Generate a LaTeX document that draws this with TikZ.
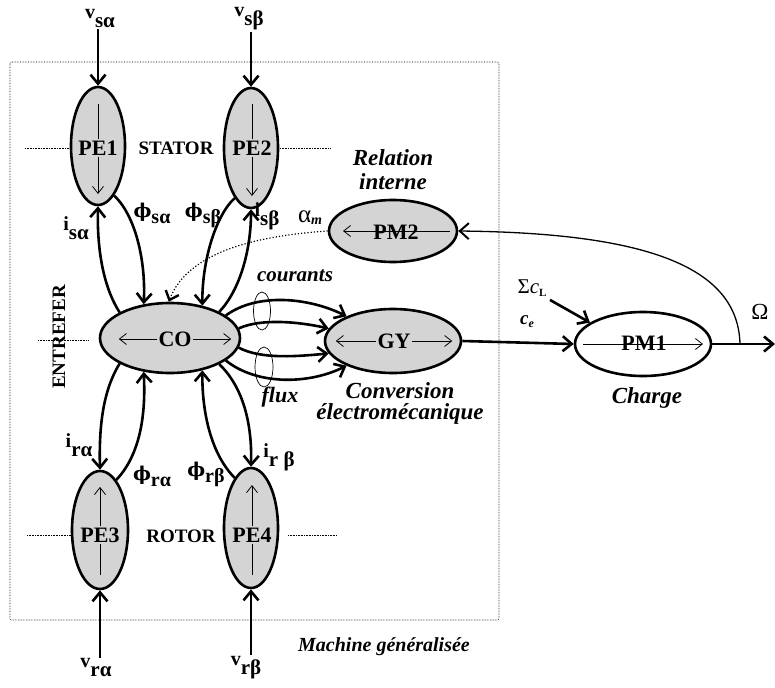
\documentclass[tikz,border=0pt]{standalone}
\usepackage{fontspec}
\setmainfont{Liberation Serif}
\newfontfamily\grkfont{DejaVu Serif}
\usetikzlibrary{arrows.meta,shapes.geometric}

% signal label: small raised letter followed by a larger lowered bold index
\newcommand\sig[2]{{\fontsize{20}{20}\selectfont\bfseries #1}\raisebox{-9pt}{\fontsize{21}{21}\selectfont\bfseries #2}}
\newcommand\fsig[1]{{\fontsize{19}{19}\selectfont\grkfont\bfseries ϕ}\raisebox{-6pt}{\fontsize{20}{20}\selectfont\bfseries #1}}

\begin{document}
\begin{tikzpicture}[x=1pt,y=-1pt,
  blob/.style={ellipse, draw, line width=2.6pt, fill=black!17, inner sep=0pt},
  wblob/.style={ellipse, draw, line width=2.6pt, fill=white, inner sep=0pt},
  ntext/.style={font=\fontsize{22}{22}\selectfont\bfseries, inner sep=1.5pt},
  zone/.style={font=\fontsize{19}{19}\selectfont\bfseries, inner sep=1pt},
  note/.style={font=\fontsize{23}{24}\selectfont\bfseries\itshape, align=center, inner sep=1pt},
  flow/.style={line width=2.6pt, -{Straight Barb[length=9pt,width=15pt]}},
  inner/.style={line width=0.8pt, -{Straight Barb[length=7pt,width=11pt]}},
  thinline/.style={line width=0.8pt},
  dots/.style={dotted, line width=1.2pt},
  boxline/.style={densely dotted, line width=0.6pt},
  ring/.style={ellipse, draw, line width=0.7pt, inner sep=0pt}]

\useasboundingbox (0,0) rectangle (775,687);

% frame of the generalised machine
\draw[boxline, rounded corners=2pt] (10,62) rectangle (499,620);

% level marks
\draw[boxline] (25,148) -- (70,148);
\draw[boxline] (280,148) -- (330,148);
\draw[boxline] (27,535) -- (72,535);
\draw[boxline] (288,535) -- (337,535);
\draw[boxline] (38,340) -- (88,340);

% processing elements
\node[blob, minimum width=54pt, minimum height=118pt] (PE1) at (98,146) {};
\node[blob, minimum width=54pt, minimum height=120pt] (PE2) at (251,148) {};
\node[blob, minimum width=56pt, minimum height=118pt] (PE3) at (100,530) {};
\node[blob, minimum width=54pt, minimum height=120pt] (PE4) at (251,528) {};
\node[blob, minimum width=140pt, minimum height=70pt] (CO) at (170,338) {};
\node[blob, minimum width=136pt, minimum height=64pt] (GY) at (393,341) {};
\node[blob, minimum width=128pt, minimum height=62pt] (PM2) at (393,231) {};
\node[wblob, minimum width=136pt, minimum height=64pt] (PM1) at (643,344) {};

% element names and their inner arrows
\node[ntext] (PE1t) at (98,148) {PE1};
\draw[thinline] (PE1t.north) -- ++(0,-35);
\draw[inner] (PE1t.south) -- ++(0,37);
\node[ntext] (PE2t) at (252,148) {PE2};
\draw[thinline] (PE2t.north) -- ++(0,-35);
\draw[inner] (PE2t.south) -- ++(0,39);
\node[ntext] (PE3t) at (100,535) {PE3};
\draw[thinline] (PE3t.south) -- ++(0,31);
\draw[inner] (PE3t.north) -- ++(0,-39);
\node[ntext] (PE4t) at (252,535) {PE4};
\draw[thinline] (PE4t.south) -- ++(0,31);
\draw[inner] (PE4t.north) -- ++(0,-41);
\node[ntext] (COt) at (175,339) {CO};
\draw[inner] (COt.west) -- ++(-38,0);
\draw[inner] (COt.east) -- ++(38,0);
\node[ntext] (GYt) at (394,341) {GY};
\draw[inner] (GYt.west) -- ++(-40,0);
\draw[inner] (GYt.east) -- ++(40,0);
\draw[inner] ([xshift=-60pt]PM1.center) -- ([xshift=60pt]PM1.center);
\node[ntext] (PM1t) at (644,343) {PM1};
\draw[inner] ([xshift=57pt]PM2.center) -- ([xshift=-50pt]PM2.center);
\node[ntext] (PM2t) at (396,232) {PM2};

% zone names
\node[zone] (stator) at (176,148) {STATOR};
\node[zone] (rotor) at (181,536) {ROTOR};
\node[zone, rotate=90] (entrefer) at (59,337) {ENTREFER};

% voltage inputs
\node[inner sep=1pt] (vsa) at (100,19) {\sig{v}{sα}};
\node[inner sep=1pt] (vsb) at (249,19) {\sig{v}{sβ}};
\node[inner sep=1pt] (vra) at (96,668) {\sig{v}{rα}};
\node[inner sep=1pt] (vrb) at (246,668) {\sig{v}{rβ}};
\draw[flow] (vsa.south -| PE1.north) -- (PE1.north);
\draw[flow] (vsb.south -| PE2.north) -- (PE2.north);
\draw[flow] (vra.north -| PE3.south) -- (PE3.south);
\draw[flow] (vrb.north -| PE4.south) -- (PE4.south);

% stator couplings
\draw[flow] (CO.153) .. controls (102,285) and (97,245) .. (PE1.south);
\draw[flow] (PE1.-72) .. controls (135,215) and (146,260) .. (CO.128);
\draw[flow] (PE2.-108) .. controls (216,215) and (202,260) .. (CO.45);
\draw[flow] (CO.28) .. controls (240,290) and (251,250) .. (PE2.south);

% rotor couplings
\draw[flow] (CO.207) .. controls (102,392) and (99,430) .. (PE3.north);
\draw[flow] (PE3.72) .. controls (140,455) and (146,415) .. (CO.232);
\draw[flow] (PE4.108) .. controls (212,455) and (202,415) .. (CO.315);
\draw[flow] (CO.332) .. controls (246,390) and (252,430) .. (PE4.north);

% currents and fluxes towards the converter
\draw[flow] (CO.22) .. controls (258,292) and (310,298) .. (GY.152);
\draw[flow] (CO.8) .. controls (262,318) and (300,322) .. (GY.169);
\draw[flow] (CO.-8) .. controls (262,360) and (300,356) .. (GY.191);
\draw[flow] (CO.-22) .. controls (258,386) and (310,384) .. (GY.208);
\node[ring, minimum width=17pt, minimum height=38pt] (ringc) at (262,311) {};
\node[ring, minimum width=18pt, minimum height=40pt] (ringf) at (264,367) {};
\node[note, font=\fontsize{21}{21}\selectfont\bfseries\itshape] (courants) at (295,276) {courants};
\node[note, font=\fontsize{22}{22}\selectfont\bfseries\itshape] (flux) at (280,397) {flux};

% internal relation
\draw[dots, -{Straight Barb[length=8pt,width=14pt,line width=2.4pt]}] (PM2.west) .. controls (255,236) and (188,252) .. (CO.92);
\node (alpham) at (310,218) {{\fontsize{25}{25}\selectfont α}\raisebox{-2pt}{\fontsize{14}{14}\selectfont\bfseries\itshape m}};
\node[note] (relint) at (393,170) {Relation\\interne};

% signal names
\node[inner sep=1pt] (isa) at (76,228) {\sig{i}{sα}};
\node[inner sep=1pt] (fsa) at (152,213) {\fsig{sα}};
\node[inner sep=1pt] (fsb) at (203,215) {\fsig{sβ}};
\node[inner sep=1pt] (isb) at (267,216) {\sig{i}{sβ}};
\node[inner sep=1pt] (ira) at (79,445) {\sig{i}{rα}};
\node[inner sep=1pt] (fra) at (152,476) {\fsig{rα}};
\node[inner sep=1pt] (frb) at (206,474) {\fsig{rβ}};
\node[inner sep=1pt] (irb) at (279,457) {\sig{i}{r β}};

% electromechanical conversion and load
\draw[flow] (GY.east) -- (PM1.west);
\coordinate (out) at (775,344);
\coordinate (tap) at (740,344);
\draw[flow] (PM1.east) -- (out);
\draw[line width=1.3pt, -{Straight Barb[length=9pt,width=16pt,line width=2pt]}] (tap) .. controls (738,268) and (650,233) .. (PM2.east);
\node (ce) at (527,322) {\fontsize{19}{19}\selectfont\bfseries\itshape c\raisebox{-3pt}{\fontsize{12}{12}\selectfont e}};
\node (sumcl) at (532,288) {\fontsize{21}{21}\selectfont Σ\textit{c}\raisebox{-3pt}{\fontsize{11}{11}\selectfont\bfseries L}};
\draw[flow] (sumcl.south east) -- (PM1.158);
\node (omega) at (760,312) {\fontsize{23}{23}\selectfont Ω};
\node[note] (conv) at (400,403) {Conversion\\[-3pt]électromécanique};
\node[note] (charge) at (647,398) {Charge};
\node[note, font=\fontsize{20}{20}\selectfont\bfseries\itshape] (machine) at (384,647) {Machine généralisée};

\end{tikzpicture}
\end{document}
